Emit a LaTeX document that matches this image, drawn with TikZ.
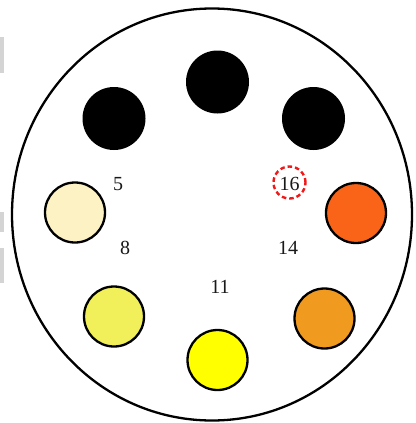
\documentclass[tikz,border=0pt]{standalone}
\usepackage{fontspec}
\setmainfont{Liberation Serif}
\usetikzlibrary{shapes.geometric}
\definecolor{cream}{HTML}{FDF2C4}
\definecolor{redorange}{HTML}{F96418}
\definecolor{lime}{HTML}{F1F05A}
\definecolor{amber}{HTML}{F09A20}
\definecolor{pureyellow}{HTML}{FFFF00}
\definecolor{edgegray}{HTML}{D4D4D4}
\definecolor{dashred}{HTML}{F01818}
\begin{document}
\begin{tikzpicture}[x=1pt,y=-1pt,
  dot/.style={circle,draw=black,line width=2.3pt,minimum size=60pt,inner sep=0pt},
  blackdot/.style={circle,fill=black,minimum size=63pt,inner sep=0pt},
  num/.style={font=\fontsize{20}{20}\selectfont,text=black!90,inner sep=0pt},
  mark16/.style={circle,draw=dashred,dash pattern=on 4.5pt off 3pt,line width=2.4pt,minimum size=32pt,inner sep=0pt}]
\useasboundingbox (0,0) rectangle (415,423);
\fill[edgegray] (0,37) rectangle (4,73);
\fill[edgegray] (0,212) rectangle (4,232);
\fill[edgegray] (0,248) rectangle (4,283);
\node[draw=black,line width=2.3pt,ellipse,minimum width=400pt,minimum height=412pt,inner sep=0pt] (plate) at (212,214.5) {};
\node[blackdot] (b1) at (217.5,82) {};
\node[blackdot] (b2) at (114,118.5) {};
\node[blackdot] (b3) at (313.5,118.5) {};
\node[dot,fill=cream] (c5) at (75,212.5) {};
\node[dot,fill=redorange] (c16) at (356,213) {};
\node[dot,fill=lime] (c8) at (114,316.5) {};
\node[dot,fill=amber] (c14) at (324.5,318.5) {};
\node[dot,fill=pureyellow] (c11) at (217.5,360) {};
\node[num] (n5) at (118,184) {5};
\node[num] (n16) at (289.5,184) {16};
\node[mark16] (m16) at (289.5,182.5) {};
\node[num] (n8) at (125,248) {8};
\node[num] (n14) at (288,248) {14};
\node[num] (n11) at (220,287) {11};
\end{tikzpicture}
\end{document}
